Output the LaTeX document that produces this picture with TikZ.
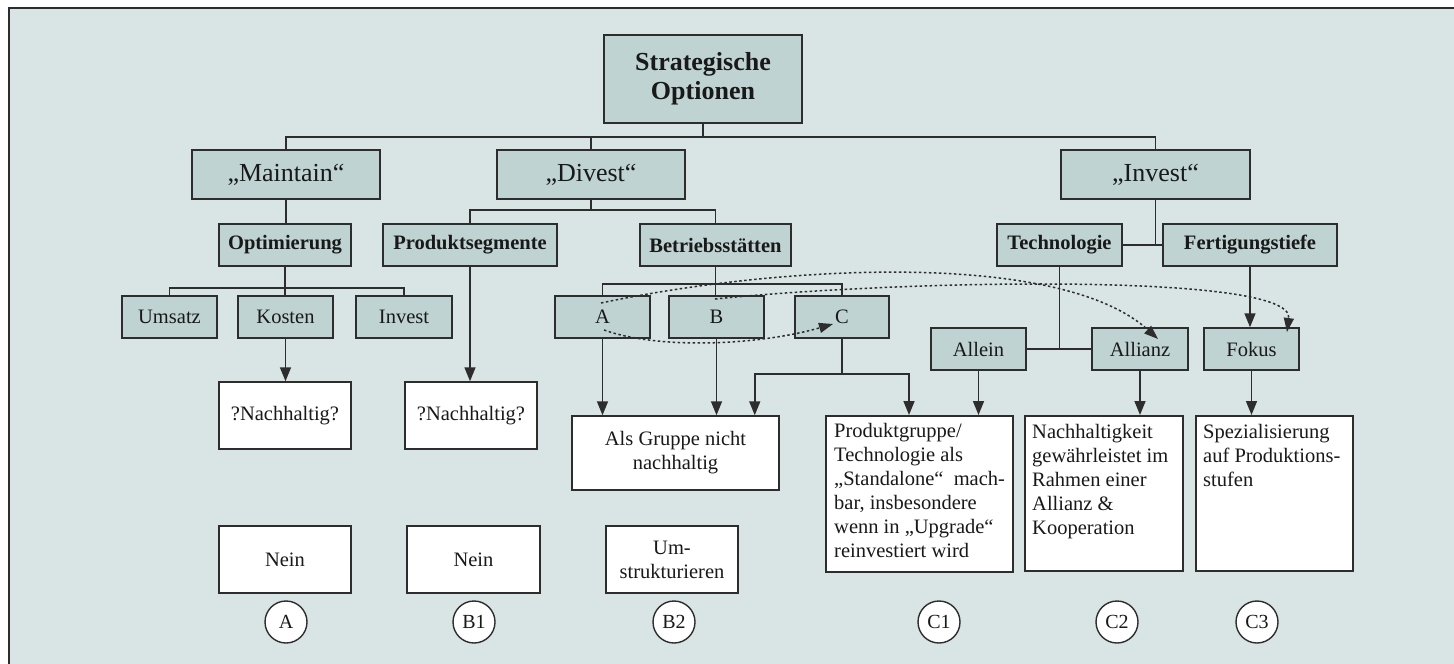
\documentclass[tikz,border=0pt]{standalone}
\usepackage{fontspec}
\setmainfont{Liberation Serif}
\usetikzlibrary{arrows.meta,calc}
\definecolor{bg}{RGB}{217,228,228}
\definecolor{boxfill}{RGB}{190,211,210}
\definecolor{ln}{RGB}{45,45,45}
\definecolor{txt}{RGB}{25,25,25}
\newcommand\fsL{\fontsize{26}{29}\selectfont}
\newcommand\fsM{\fontsize{20.5}{24}\selectfont}
\newcommand\fsS{\fontsize{20.5}{24}\selectfont}
\newcommand\fsC{\fontsize{20}{22}\selectfont}
\tikzset{
  gbox/.style={draw=ln, line width=1.5pt, fill=boxfill, inner sep=0pt, text=txt, align=center},
  wbox/.style={draw=ln, line width=1.5pt, fill=white, inner sep=0pt, text=txt, align=center, font=\fsS},
  circ/.style={circle, draw=ln, line width=1.4pt, fill=white, minimum size=42pt, inner sep=0pt, text=txt, font=\fsC},
  conn/.style={draw=ln, line width=1.6pt},
  arr/.style={conn, -{Triangle[length=14pt,width=11pt]}},
  dotarr/.style={draw=ln, line width=1.5pt, dash pattern=on 2.5pt off 2.5pt, -{Triangle[length=14pt,width=10pt]}},
  ctext/.style={anchor=north west, align=left, inner sep=0pt, text=txt, font=\fsS}
}
\begin{document}
\begin{tikzpicture}[x=1pt,y=-1pt]
\useasboundingbox (0,0) rectangle (1454,664);
\fill[white] (0,0) rectangle (1454,664);
\draw[fill=bg, draw=ln, line width=1.3pt] (9,8) rectangle (1480,690);

% level 0
\node[gbox, font=\fsL\bfseries, minimum width=198pt, minimum height=88pt] (top) at (703,79) {Strategische\\Optionen};
% level 1
\node[gbox, font=\fsL, minimum width=188pt, minimum height=49pt] (maintain) at (286,174.5) {„Maintain“};
\node[gbox, font=\fsL, minimum width=188pt, minimum height=49pt] (divest) at (591,174.5) {„Divest“};
\node[gbox, font=\fsL, minimum width=189pt, minimum height=49pt] (invest) at (1155.5,174.5) {„Invest“};
% level 2
\node[gbox, font=\fsM\bfseries, minimum width=132pt, minimum height=42pt] (opt) at (285,245) {Optimierung};
\node[gbox, font=\fsM\bfseries, minimum width=174pt, minimum height=42pt] (prod) at (470,245) {Produktsegmente};
\node[gbox, font=\fsM\bfseries, minimum width=151pt, minimum height=42pt] (betr) at (715.5,245) {Betriebsstätten};
\node[gbox, font=\fsM\bfseries, minimum width=125pt, minimum height=42pt] (tech) at (1059.5,245) {Technologie};
\node[gbox, font=\fsM\bfseries, minimum width=174pt, minimum height=42pt] (fert) at (1250,245) {Fertigungstiefe};
% level 3
\node[gbox, font=\fsS, minimum width=95pt, minimum height=42pt] (umsatz) at (169.5,317) {Umsatz};
\node[gbox, font=\fsS, minimum width=95pt, minimum height=42pt] (kosten) at (285.5,317) {Kosten};
\node[gbox, font=\fsS, minimum width=96pt, minimum height=42pt] (investk) at (404,317) {Invest};
\node[gbox, font=\fsS, minimum width=95pt, minimum height=42pt] (A) at (602.5,317) {A};
\node[gbox, font=\fsS, minimum width=95pt, minimum height=42pt] (B) at (716.5,317) {B};
\node[gbox, font=\fsS, minimum width=94pt, minimum height=42pt] (C) at (842,317) {C};
\node[gbox, font=\fsS, minimum width=95pt, minimum height=42pt] (allein) at (978.5,349) {Allein};
\node[gbox, font=\fsS, minimum width=96pt, minimum height=42pt] (allianz) at (1140,349) {Allianz};
\node[gbox, font=\fsS, minimum width=95pt, minimum height=42pt] (fokus) at (1251.5,349) {Fokus};
% white boxes
\node[wbox, minimum width=132pt, minimum height=67pt] (n1) at (285,415.5) {?Nachhaltig?};
\node[wbox, minimum width=132pt, minimum height=67pt] (n2) at (471,415.5) {?Nachhaltig?};
\node[wbox, minimum width=207pt, minimum height=74pt] (gruppe) at (675.5,453) {Als Gruppe nicht\\nachhaltig};
\node[wbox, minimum width=187pt, minimum height=156pt, anchor=north west] (c1) at (825,415) {};
\node[wbox, minimum width=158pt, minimum height=155pt, anchor=north west] (c2) at (1024,415) {};
\node[wbox, minimum width=157pt, minimum height=155pt, anchor=north west] (c3) at (1195,415) {};
\node[ctext] (c1t) at ($(c1.north west)+(9,8)$) {Produktgruppe/\\Technologie als\\„Standalone“\hspace{0.25em} mach-\\bar, insbesondere\\wenn in „Upgrade“\\reinvestiert wird};
\node[ctext] (c2t) at ($(c2.north west)+(8,9)$) {Nachhaltigkeit\\gewährleistet im\\Rahmen einer\\Allianz \&\\Kooperation};
\node[ctext] (c3t) at ($(c3.north west)+(8,9)$) {Spezialisierung\\auf Produktions-\\stufen};
\node[wbox, minimum width=132pt, minimum height=67pt] (nein1) at (285,559.5) {Nein};
\node[wbox, minimum width=133pt, minimum height=67pt] (nein2) at (473.5,559.5) {Nein};
\node[wbox, minimum width=132pt, minimum height=67pt] (um) at (672,559.5) {Um-\\strukturieren};
% circles
\node[circ] (kA) at (286,622) {A};
\node[circ] (kB1) at (474,622) {B1};
\node[circ] (kB2) at (674,622) {B2};
\node[circ] (kC1) at (939,622) {C1};
\node[circ] (kC2) at (1117,622) {C2};
\node[circ] (kC3) at (1257,622) {C3};

% tree connectors
\draw[conn] (maintain.north) -- ++(0,-12) coordinate (h1) -| (invest.north);
\draw[conn] (top.south) -- (top.south |- h1);
\draw[conn] (divest.north) -- (divest.north |- h1);
\draw[conn] (maintain.south) -- (maintain.south |- opt.north);
\draw[conn] (prod.north) -- ++(0,-13) coordinate (h2) -| (betr.north);
\draw[conn] (divest.south) -- (divest.south |- h2);
\draw[conn] (invest.south) -- (invest.south |- tech.east);
\draw[conn] (tech.east) -- (fert.west);
\draw[conn] (umsatz.north) -- ++(0,-7) coordinate (h3) -| (investk.north);
\draw[conn] (opt.south) -- (opt.south |- kosten.north);
\draw[conn] (A.north) -- ++(0,-11) coordinate (h4) -| (C.north);
\draw[conn] (betr.south) -- (betr.south |- B.north);
\draw[conn] (tech.south) -- (tech.south |- allein.east);
\draw[conn] (allein.east) -- (allianz.west);

% arrows
\draw[arr] (kosten.south) -- (kosten.south |- n1.north);
\draw[arr] (prod.south) -- (prod.south |- n2.north);
\draw[arr] (A.south) -- (A.south |- gruppe.north);
\draw[arr] (B.south) -- (B.south |- gruppe.north);
\draw[conn] (C.south) -- ++(0,35) coordinate (cj);
\draw[arr] (cj) -| ([xshift=-25pt]gruppe.north east);
\draw[arr] (cj) -| ([xshift=84pt]c1.north west);
\draw[arr] (allein.south) -- (allein.south |- c1.north);
\draw[arr] (allianz.south) -- (allianz.south |- c2.north);
\draw[arr] (fert.south) -- (fert.south |- fokus.north);
\draw[arr] (fokus.south) -- (fokus.south |- c3.north);

% dotted arrows
\draw[dotarr] ($(A.center)+(1.5,13)$) .. controls (660,350) and (760,345) .. ($(C.center)+(-9,7)$);
\draw[dotarr] ($(A.center)+(-1.5,-14)$) .. controls (780,265) and (1060,250) .. ($(allianz.center)+(18,-10)$);
\draw[dotarr] ($(B.center)+(-1.5,-18)$) .. controls (900,280) and (1295,272) .. ($(fokus.center)+(35.5,-17)$);
\end{tikzpicture}
\end{document}
